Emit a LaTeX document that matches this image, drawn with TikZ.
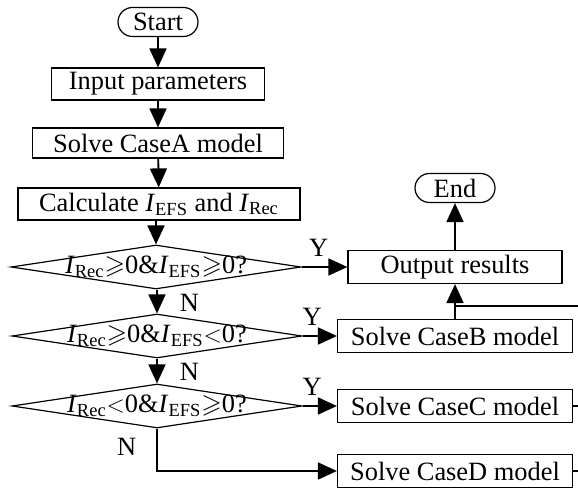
\documentclass[tikz,border=0pt]{standalone}
\usepackage{fontspec}
\setmainfont{Liberation Serif}
\usepackage{amssymb}
\usetikzlibrary{shapes.geometric,shapes.misc,arrows.meta,positioning}

\newcommand{\IRec}{\textit{I}\textsubscript{Rec}}
\newcommand{\IEFS}{\textit{I}\textsubscript{EFS}}

\begin{document}
\begin{tikzpicture}[
    x=0.5pt, y=-0.5pt,
    font=\fontsize{13.2pt}{15pt}\selectfont,
    term/.style={rounded rectangle, draw, line width=0.6pt, minimum width=42pt, minimum height=14.5pt, inner sep=1pt},
    proc/.style={rectangle, draw, line width=0.6pt, minimum height=16pt, inner sep=1pt, align=center},
    dec/.style={diamond, draw, line width=0.6pt, minimum width=145pt, minimum height=22pt, inner sep=0pt},
    lab/.style={inner sep=1pt},
    arrow/.style={-{Triangle[length=9.5pt,width=8.5pt]}, line width=0.9pt},
    wire/.style={line width=0.9pt}
]
\useasboundingbox (0,0) rectangle (578,491);

% Main column
\node[term] (start) at (158,22) {Start};
\node[proc, minimum width=106.5pt] (input) at (158,84) {Input parameters};
\node[proc, minimum width=125.5pt, minimum height=15pt] (caseA) at (158,143) {Solve CaseA model};
\node[proc, minimum width=141pt] (calc) at (159,204) {Calculate \IEFS{} and \IRec};

% Decisions
\node[dec] (d1) at (156,267) {};
\node[lab] (d1txt) at (d1) {\IRec$\geqslant$0\&\IEFS$\geqslant$0?};
\node[dec] (d2) at (157,336) {};
\node[lab] (d2txt) at (d2) {\IRec$\geqslant$0\&\IEFS$<$0?};
\node[dec] (d3) at (157,406) {};
\node[lab] (d3txt) at (d3) {\IRec$<$0\&\IEFS$\geqslant$0?};

% Right column
\node[term] (end) at (455,188) {End};
\node[proc, minimum width=107pt, minimum height=16.5pt] (output) at (455,267) {Output results};
\node[proc, minimum width=117.5pt, minimum height=16.5pt] (caseB) at (455,336) {Solve CaseB model};
\node[proc, minimum width=117.5pt, minimum height=16.5pt] (caseC) at (455,406) {Solve CaseC model};
\node[proc, minimum width=117.5pt, minimum height=16.5pt] (caseD) at (455,471) {Solve CaseD model};
\coordinate (rim) at (578,0);
\coordinate (busB) at ([yshift=6.5pt]caseB.north);

% Arrows
\draw[arrow] (start) -- (input);
\draw[arrow] (input) -- (caseA);
\draw[arrow] (caseA) -- (calc);
\draw[arrow] (calc.south -| d1) -- (d1);
\draw[arrow] (d1.south -| d2) -- node[lab, pos=0.55, right=10pt] {N} (d2);
\draw[arrow] (d2) -- node[lab, pos=0.55, right=10pt] {N} (d3);
\draw[arrow] (d1.east) -- node[lab, pos=0.37, above=4pt] {Y} (output.west);
\draw[arrow] (d2.east) -- node[lab, pos=0.28, above=4pt] {Y} (caseB.west);
\draw[arrow] (d3.east) -- node[lab, pos=0.28, above=4pt] {Y} (caseC.west);
\draw[arrow] (d3.south) |- node[lab, pos=0.21, left=9pt] {N} (caseD.west);
\draw[arrow] (output) -- (end);
\draw[arrow] (caseB) -- (output);
\draw[wire, line width=1.2pt] (busB) -- (busB -| rim);
\draw[wire] (caseC.east) -- (caseC.east -| rim);
\draw[wire] (caseD.east) -- (caseD.east -| rim);

\end{tikzpicture}
\end{document}
